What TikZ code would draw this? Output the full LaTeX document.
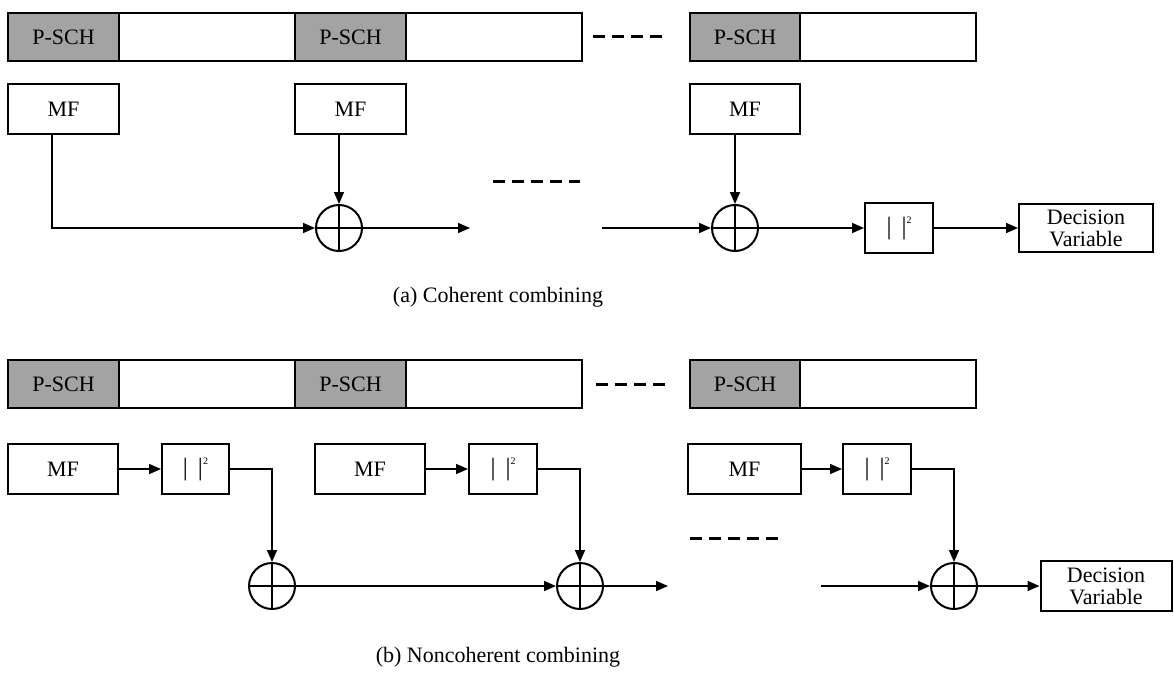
\documentclass[tikz,border=0pt]{standalone}
\usepackage{fontspec}
\setmainfont{Liberation Serif}
\usetikzlibrary{arrows.meta}
\newcommand\absq{{\fontsize{25}{26}\selectfont|\hspace{10pt}|}\raisebox{11pt}{\fontsize{10}{10}\selectfont 2}}
\begin{document}
\begin{tikzpicture}[x=1pt,y=-1pt,
  box/.style={draw, line width=2pt, rectangle, inner sep=0pt, font=\fontsize{22}{24}\selectfont},
  pbar/.style={box, fill=black!36, minimum width=111pt, minimum height=48pt},
  wbar/.style={box, fill=white, minimum width=176pt, minimum height=48pt},
  mfbox/.style={box, minimum width=111pt, minimum height=50pt},
  sqbox/.style={box, minimum width=68pt, minimum height=50pt},
  decbox/.style={box, align=center, minimum height=48pt, font=\fontsize{22}{22}\selectfont},
  sumnode/.style={draw, circle, line width=2pt, minimum size=46pt, inner sep=0pt,
    path picture={\draw[line width=1.6pt]
      (path picture bounding box.north) -- (path picture bounding box.south)
      (path picture bounding box.west) -- (path picture bounding box.east);}},
  arr/.style={line width=1.6pt, -{Triangle[length=12pt,width=10pt]}},
  dots/.style={line width=3pt, dash pattern=on 12pt off 7pt},
  captext/.style={font=\fontsize{22}{25}\selectfont, inner sep=0pt}
]
\useasboundingbox (0,0) rectangle (1174,679);

% ---------- (a) coherent combining ----------
\node[wbar] (aw1) at (207,37) {};
\node[pbar] (ap1) at (63.5,37) {P-SCH};
\node[wbar] (aw2) at (494,37) {};
\node[pbar] (ap2) at (350.5,37) {P-SCH};
\node[wbar] (aw3) at (888,37) {};
\node[pbar, minimum width=110pt] (ap3) at (745,37) {P-SCH};
\coordinate (adt1) at (593,37);
\coordinate (adt2) at (668,37);
\draw[dots] (adt1) -- (adt2);

\node[mfbox] (am1) at (63.5,109) {MF};
\node[mfbox] (am2) at (350.5,109) {MF};
\node[mfbox, minimum width=110pt] (am3) at (745,109) {MF};

\node[sumnode] (as1) at (339,228) {};
\node[sumnode] (as2) at (735,228) {};
\node[sqbox] (aq) at (899,228) {\absq};
\node[decbox, minimum width=134pt] (ad) at (1086,228) {Decision\\Variable};

\coordinate (aout) at (470,228);
\coordinate (ain) at (602,228);
\coordinate (amd1) at (493,182);
\coordinate (amd2) at (580,182);

\draw[arr] ([xshift=-11.5pt]am1.south) |- (as1);
\draw[arr] (am2.south -| as1.north) -- (as1.north);
\draw[arr] (as1) -- (aout);
\draw[dots] (amd1) -- (amd2);
\draw[arr] (ain) -- (as2);
\draw[arr] (am3.south -| as2.north) -- (as2.north);
\draw[arr] (as2) -- (aq);
\draw[arr] (aq) -- (ad);

\node[captext] (capa) at (498,297) {(a) Coherent combining};

% ---------- (b) noncoherent combining ----------
\node[wbar] (bw1) at (207,384) {};
\node[pbar] (bp1) at (63.5,384) {P-SCH};
\node[wbar] (bw2) at (494,384) {};
\node[pbar] (bp2) at (350.5,384) {P-SCH};
\node[wbar] (bw3) at (888,384) {};
\node[pbar, minimum width=110pt] (bp3) at (745,384) {P-SCH};
\coordinate (bdt1) at (596,384);
\coordinate (bdt2) at (668,384);
\draw[dots] (bdt1) -- (bdt2);

\node[mfbox, minimum width=110pt] (bm1) at (63,469) {MF};
\node[sqbox, minimum width=67pt] (bq1) at (195.5,469) {\absq};
\node[mfbox, minimum width=110pt] (bm2) at (370,469) {MF};
\node[sqbox] (bq2) at (503,469) {\absq};
\node[mfbox, minimum width=113pt] (bm3) at (744.5,469) {MF};
\node[sqbox] (bq3) at (877,469) {\absq};

\node[sumnode] (bs1) at (272,586) {};
\node[sumnode] (bs2) at (580,586) {};
\node[sumnode] (bs3) at (954,586) {};
\node[decbox, minimum width=131pt, minimum height=50pt] (bd) at (1106,586) {Decision\\Variable};

\coordinate (bout) at (668,586);
\coordinate (bin) at (821,586);
\coordinate (bmd1) at (690,538);
\coordinate (bmd2) at (778,538);

\draw[arr] (bm1) -- (bq1);
\draw[arr] (bm2) -- (bq2);
\draw[arr] (bm3) -- (bq3);
\draw[arr] (bq1.east) -| (bs1.north);
\draw[arr] (bq2.east) -| (bs2.north);
\draw[arr] (bq3.east) -| (bs3.north);
\draw[arr] (bs1) -- (bs2);
\draw[arr] (bs2) -- (bout);
\draw[dots] (bmd1) -- (bmd2);
\draw[arr] (bin) -- (bs3);
\draw[arr] (bs3) -- (bd);

\node[captext] (capb) at (498,657) {(b) Noncoherent combining};
\end{tikzpicture}
\end{document}
